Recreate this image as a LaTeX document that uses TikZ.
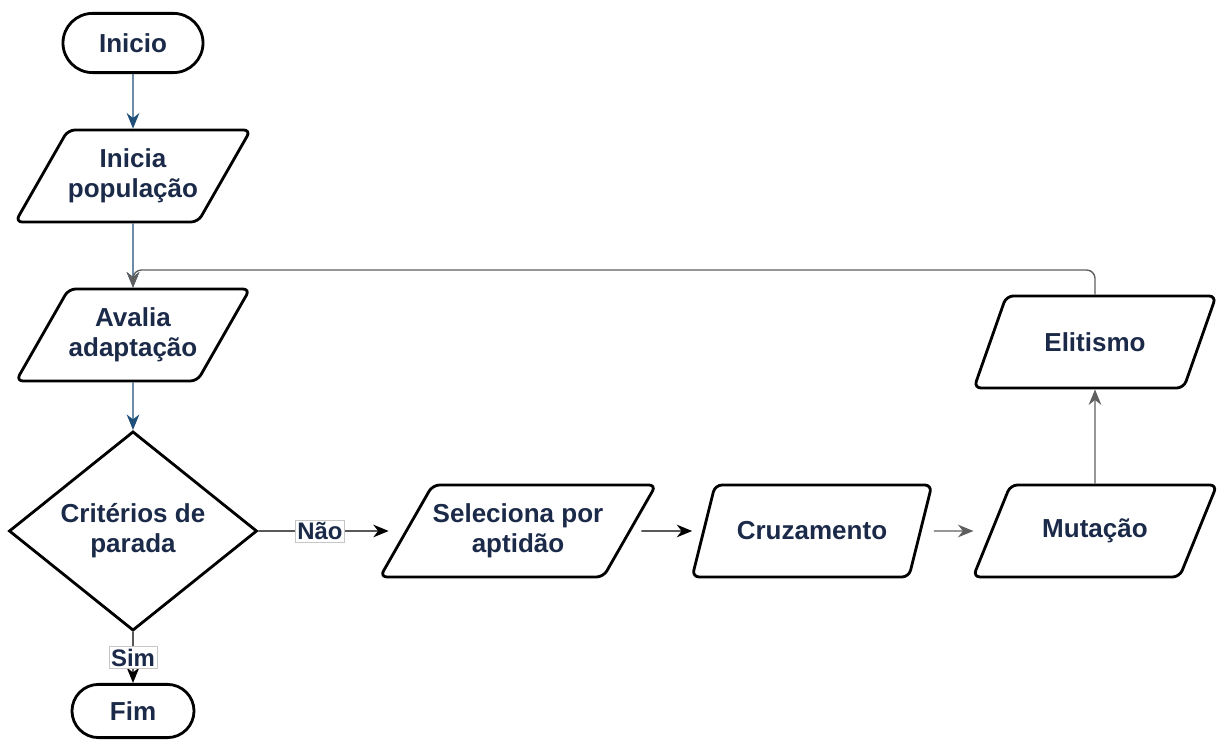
\documentclass[tikz,border=0pt]{standalone}
\usepackage{fontspec}
\setmainfont{Liberation Sans}
\usetikzlibrary{shapes.geometric,shapes.misc,arrows.meta}
\definecolor{navy}{RGB}{27,42,72}
\definecolor{flowblue}{RGB}{31,78,121}
\definecolor{loopgray}{RGB}{95,95,95}

\begin{document}
\begin{tikzpicture}[x=0.025cm,y=-0.025cm,
        every node/.style={font=\bfseries\fontsize{18.5}{21.5}\selectfont, text=navy, align=center},
        term/.style={draw=black, line width=2pt, rounded rectangle, minimum width=3.5cm, minimum height=1.48cm, inner sep=0pt},
        io/.style={draw=black, line width=2pt, trapezium, trapezium left angle=46, trapezium right angle=134,
            trapezium stretches=true, rounded corners=5pt, minimum height=2.3cm, inner sep=0pt},
        decision/.style={draw=black, line width=2pt, diamond, minimum width=6.2cm, minimum height=4.45cm, inner sep=0pt},
        answer/.style={draw=gray!45, fill=white, line width=0.4pt, inner sep=1.5pt, font=\bfseries\fontsize{17}{19}\selectfont},
        flow/.style={-{Stealth[length=11pt,width=9pt,inset=3.5pt]}, line width=1pt},
    ]
        \useasboundingbox (0,0) rectangle (1219,740);

        \node[term] (inicio) at (133,43) {Inicio};
        \node[io, minimum width=5.7cm] (inicia) at (133,176) {Inicia\\população};
        \node[io, minimum width=5.7cm] (avalia) at (133,335) {Avalia\\adaptação};
        \node[decision] (criterio) at (133,531) {Critérios de\\parada};
        \node[term, minimum width=3.05cm, minimum height=1.33cm] (fim) at (133,711) {Fim};

        \node[io, minimum width=6.9cm] (seleciona) at (518,531) {Seleciona por\\aptidão};
        \node[io, minimum width=6cm] (cruzamento) at (812,531) {Cruzamento};
        \node[io, minimum width=6.1cm] (mutacao) at (1095,531) {Mutação};
        \node[io, minimum width=6.1cm] (elitismo) at (1095,342) {Elitismo};
        \coordinate (volta) at (133,270);

        \draw[flow, flowblue]
            (inicio) -- (inicia);
        \draw[flow, flowblue]
            (inicia) -- (avalia);
        \draw[flow, flowblue]
            (avalia) -- (criterio);

        \draw[flow, shorten >=0.4cm] (criterio) -- node[answer, pos=0.42] {Não} (seleciona);
        \draw[flow] (criterio) -- node[answer] {Sim} (fim);

        \draw[flow, shorten <=0.25cm, shorten >=0.25cm] (seleciona) -- (cruzamento);
        \draw[flow, loopgray, shorten <=0.3cm, shorten >=0.42cm] (cruzamento) -- (mutacao);
        \draw[flow, loopgray] (mutacao) -- (elitismo);

        % laco de volta para a avaliacao
        \draw[flow, loopgray]
            (elitismo.north) [rounded corners=6pt] |- (volta)
            [sharp corners] -- (avalia);
    \end{tikzpicture}
\end{document}
